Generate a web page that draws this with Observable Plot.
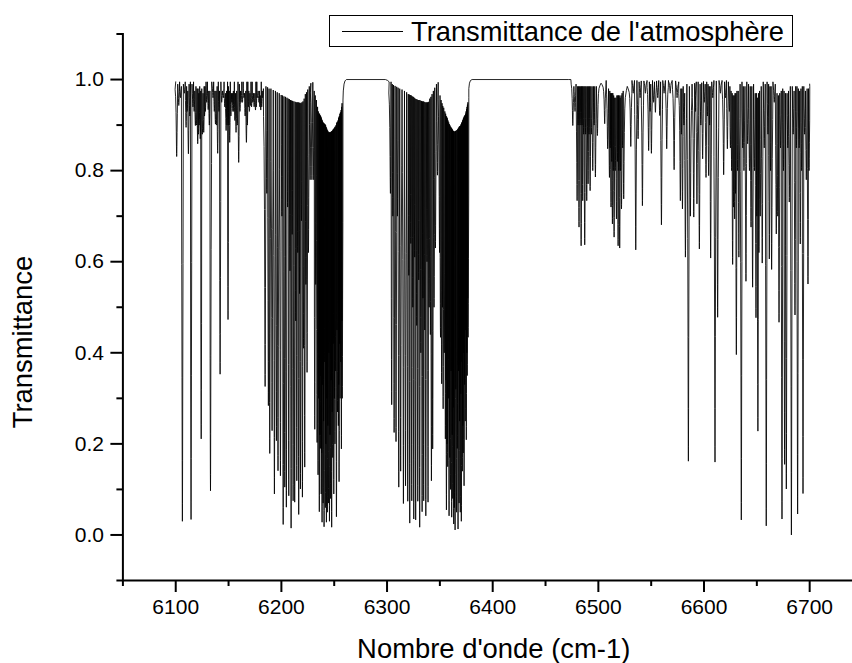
<!DOCTYPE html>
<html><head><meta charset="utf-8">
<script src="https://cdn.jsdelivr.net/npm/d3@7"></script>
<script src="https://cdn.jsdelivr.net/npm/@observablehq/plot@0.6"></script>
<style>
html,body{margin:0;padding:0;background:#fff;font-family:"Liberation Sans",Arial,sans-serif;}
#wrap{position:relative;width:852px;height:663px;overflow:hidden;}
#legend{position:absolute;left:329px;top:15px;width:462px;height:30px;border:1.3px solid #000;background:#fff;box-sizing:content-box;}
#legend i{position:absolute;left:12px;top:15px;width:61px;height:1px;background:#000;}
#legend span{position:absolute;left:81px;top:0;font-size:27.3px;line-height:31px;white-space:nowrap;color:#000;}
</style></head><body>
<div id="wrap"><div id="chart"></div>
<div id="legend"><i></i><span>Transmittance de l'atmosphère</span></div></div>
<script>
const xLabel = "Nombre d'onde (cm-1)";
const yLabel = "Transmittance";
const xMajor = [6100,6200,6300,6400,6500,6600,6700];
const xMinor = [6050,6150,6250,6350,6450,6550,6650];
const yMajor = [0,0.2,0.4,0.6,0.8,1.0];
const yMinor = [-0.1,0.1,0.3,0.5,0.7,0.9,1.1];

// each row: wavenumber of the absorption line, transmittance at its minimum, level of the crest after it
const linesLow = [
[6100.9,.831,.99],[6102.9,.943,.995],[6104.4,.96,.985],[6106.3,.030,.99],[6108.2,.97,.995],[6109.8,.895,.985],
[6112.0,.837,.99],[6114.5,.034,.99],[6116.3,.94,.995],[6118.6,.899,.985],[6120.8,.859,.98],[6122.2,.90,.985],
[6124.1,.211,.98],[6126.5,.884,.985],[6128.1,.93,.995],[6130.7,.934,.975],[6132.9,.097,.995],[6135.3,.96,.995],
[6137.6,.902,.975],[6139.7,.838,.995],[6140.9,.93,.975],[6142.0,.353,.995],[6145.1,.96,.995],[6147.7,.888,.975],
[6149.5,.473,.985],[6151.1,.862,.995],[6153.2,.95,.97],[6155,.93,.995],[6157.1,.884,.975],[6159.6,.818,.99],
[6161.9,.95,.995],[6164.5,.96,.97],[6166.9,.862,.995],[6168.7,.94,.975],[6170.7,.943,.995],[6172.9,.95,.97],
[6175.5,.933,.995],[6177.2,.96,.975],[6180.5,.933,.995],[6182.3,.96,.98]
];
const linesLowWeak = [
[6110.8,.93,.975],[6113.3,.92,.995],[6117.4,.93,.975],[6119.7,.9,.98],[6121.5,.88,.97],[6123.2,.87,.975],
[6125.2,.88,.97],[6127.3,.92,.985],[6129.3,.95,.995],[6131.8,.9,.975],[6136.5,.93,.975],[6138.7,.9,.985],
[6143.5,.95,.975],[6146.4,.94,.97],[6148.6,.9,.995],[6150.3,.9,.975],[6152.2,.92,.97],[6154.1,.93,.975],
[6156,.91,.97],[6158.3,.9,.995],[6160.8,.93,.975],[6163.2,.95,.995],[6165.7,.92,.975],[6167.8,.9,.995],
[6169.7,.93,.97],[6171.8,.94,.995],[6174.2,.94,.97],[6176.3,.94,.995],[6178.8,.95,.975],[6179.6,.94,.965],
[6181.4,.94,.975]
];
const bandOneP = [
[6184.6,.326,.985],[6186.2,.75,.983],[6187.7,.284,.98],[6189,.179,.98],[6191.2,.229,.977],[6193.4,.09,.975],
[6195.3,.207,.972],[6196.8,.141,.97],[6199.1,.13,.966],[6200.5,.7,.965],[6201.7,.023,.963],[6203.2,.105,.962],
[6204.7,.061,.96],[6205.9,.72,.958],[6207,.086,.957],[6208.1,.58,.955],[6209.2,.015,.954],[6210.2,.66,.953],
[6211.1,.075,.952],[6212.6,.072,.951],[6213.6,.47,.95],[6214.6,.119,.95],[6215.5,.62,.95],[6216.4,.045,.949],
[6217.2,.53,.949],[6218,.101,.948],[6219,.69,.95],[6219.9,.083,.952],[6221,.41,.958],[6222.1,.149,.968],
[6223.2,.55,.972],[6224.3,.357,.978],[6225.6,.62,.985],[6227.2,.78,.992]
];
const bandOneR = [
[6228.9,.78,.994],[6230.6,.78,.975],[6231.6,.232,.965],[6232.5,.55,.955],[6233.8,.203,.94],[6234.7,.132,.93],
[6235.9,.051,.925],[6236.9,.19,.92],[6237.7,.09,.915],[6238.5,.028,.91],[6239.5,.07,.905],[6240.4,.018,.903],
[6241.6,.06,.9],[6242.6,.028,.893],[6243.5,.05,.888],[6244.5,.07,.884],[6245.5,.030,.884],[6246.6,.08,.885],
[6247.6,.017,.887],[6248.6,.17,.89],[6249.6,.09,.893],[6250.7,.2,.897],[6252.1,.04,.905],[6253.1,.27,.91],
[6253.9,.24,.915],[6254.6,.117,.92],[6255.6,.3,.928],[6256.8,.189,.94],[6257.6,.30,.955]
];
const bandOneWeak = [
[6235.3,.3,.925],[6236.4,.22,.922],[6237.3,.35,.918],[6238.1,.18,.912],[6239,.33,.907],[6239.95,.25,.904],
[6241,.38,.902],[6242.1,.2,.896],[6243.05,.3,.89],[6244,.24,.886],[6245,.4,.884],[6246,.22,.884],
[6247.1,.34,.886],[6248.1,.27,.888],[6249.1,.42,.891],[6250.15,.3,.895],[6251.4,.36,.9],[6252.6,.45,.907],
[6254.25,.33,.917],[6255.1,.42,.925],[6256.2,.38,.933],[6257.2,.47,.948]
];
const plateauOne = [[6258.6,.975],[6259.3,.99],[6260.2,.997],[6261.5,1],[6298.5,1],[6300.5,.998],[6302,.995]];
const bandTwoP = [
[6303.2,.75,.995],[6304.4,.286,.99],[6305.5,.7,.988],[6306.7,.225,.986],[6308.5,.205,.984],[6309.8,.7,.982],
[6311.1,.105,.98],[6312.9,.14,.978],[6315.5,.069,.975],[6317.5,.108,.972],[6319.6,.074,.968],[6320.6,.57,.967],
[6321.5,.026,.966],[6322.5,.64,.965],[6323.4,.075,.963],[6324.4,.5,.962],[6325.3,.035,.96],[6326.2,.61,.958],
[6327.1,.033,.957],[6328.1,.46,.956],[6329.1,.074,.955],[6330,.56,.955],[6330.9,.017,.954],[6332,.4,.953],
[6333.2,.051,.952],[6334,.52,.952],[6334.7,.075,.951],[6335.7,.45,.95],[6336.7,.042,.95],[6337.8,.6,.95],
[6338.8,.072,.951],[6339.9,.5,.958],[6341,.44,.962],[6342,.119,.968],[6343.2,.189,.975],[6344.5,.5,.982],
[6345.8,.63,.99],[6347.7,.79,.994]
];
const bandTwoR = [
[6349.7,.62,.965],[6350.6,.434,.955],[6351.7,.332,.948],[6352.4,.5,.942],[6353.1,.277,.938],[6354.2,.4,.93],
[6355.2,.211,.925],[6356.2,.055,.918],[6357.4,.15,.91],[6358.7,.042,.902],[6360,.1,.896],[6361.2,.039,.892],
[6362.2,.08,.888],[6363.1,.024,.886],[6363.8,.06,.886],[6364.4,.011,.887],[6365.8,.05,.889],[6367.2,.013,.893],
[6368.2,.07,.897],[6369.3,.05,.899],[6370.3,.03,.905],[6371.3,.14,.91],[6372.1,.18,.915],[6372.9,.108,.92],
[6374,.25,.925],[6375,.209,.935],[6375.9,.35,.945],[6376.7,.434,.96]
];
const bandTwoWeak = [
[6355.7,.34,.92],[6356.8,.2,.915],[6358,.3,.906],[6359.35,.17,.899],[6360.6,.36,.894],[6361.7,.22,.89],
[6362.65,.28,.887],[6365.1,.32,.888],[6366.5,.19,.891],[6367.7,.36,.895],[6368.75,.25,.898],[6369.8,.31,.902],
[6370.8,.38,.907],[6371.7,.24,.912],[6372.5,.4,.917],[6373.45,.33,.922],[6374.5,.45,.93],[6375.45,.4,.94],
[6376.3,.52,.95]
];
const plateauTwo = [[6377.4,.98],[6378,.992],[6379,.998],[6380.5,1],[6472,1],[6474,1]];
const linesMid = [
[6475.8,.899,.985],[6477.9,.93,.99],[6479.9,.734,.985],[6480.8,.9,.985],[6481.7,.676,.985],[6482.7,.9,.985],
[6483.7,.635,.985],[6484.5,.9,.985],[6485.2,.734,.985],[6486.1,.88,.985],[6487.1,.637,.985],[6488,.88,.985],
[6489,.734,.985],[6490.3,.771,.985],[6491.2,.88,.985],[6492.2,.756,.985],[6493.4,.88,.985],[6494.7,.80,.985],
[6496,.9,.985],[6497.2,.786,.985],[6499.1,.877,.992],[6506,.903,.998],[6508.8,.848,.98],[6510.5,.785,.975],
[6511.2,.85,.97],[6512,.72,.97],[6512.7,.82,.97],[6513.3,.683,.97],[6514.1,.8,.965],[6514.9,.654,.96],
[6516,.8,.96],[6517.1,.694,.965],[6518,.82,.965],[6518.7,.635,.965],[6519.4,.8,.965],[6520.2,.63,.96],
[6521,.8,.965],[6521.9,.716,.97],[6523,.85,.975],[6524,.738,.985],[6530.7,.853,.998],[6533,.97,.998],
[6535.4,.626,.998],[6537.6,.87,.995],[6539.5,.96,.997],[6541.7,.723,.997],[6544.5,.97,.998],[6547.6,.844,.995],
[6549,.93,.99],[6550.2,.838,.998],[6552.3,.95,.995],[6554,.928,.997],[6556.2,.96,.998],[6558.1,.921,.995],
[6559.7,.681,.998],[6562.2,.97,.998],[6564.7,.848,.998],[6568,.97,.998],[6571.7,.802,.997],[6574.5,.96,.995],
[6577.6,.734,.98],[6578.6,.88,.98],[6579.6,.716,.985],[6581,.9,.97],[6582.4,.61,.99],[6585.2,.162,.985],
[6587.1,.70,.99],[6590.3,.698,.992],[6592,.93,.995]
];
const linesHigh = [
[6593.3,.727,.995],[6595.6,.628,.99],[6597,.9,.993],[6598.7,.826,.996],[6600.3,.95,.99],[6601.9,.785,.995],
[6603.2,.92,.99],[6604.4,.789,.985],[6605.3,.9,.985],[6606.3,.608,.995],[6608.3,.96,.998],[6610.4,.16,.997],
[6612.9,.478,.998],[6615.5,.97,.998],[6618.6,.791,.995],[6620.3,.96,.998],[6622.1,.848,.995],[6624,.93,.985],
[6625,.85,.975],[6626.2,.8,.97],[6627.1,.594,.965],[6628,.72,.965],[6629,.694,.97],[6629.8,.75,.97],
[6630.6,.396,.975],[6631.8,.8,.975],[6633,.61,.99],[6635.3,.033,.995],[6636.6,.85,.985],[6637.8,.8,.985],
[6639.7,.557,.995],[6641.3,.859,.99],[6643,.8,.985],[6644.5,.676,.985],[6646,.544,.99],[6647.8,.8,.97],
[6649.2,.477,.97],[6650,.7,.96],[6651,.228,.97],[6652,.62,.975],[6653.2,.7,.985],[6655.1,.597,.995],
[6657,.85,.99],[6658.9,.02,.995],[6660.5,.88,.99],[6661.8,.606,.985],[6663,.8,.985],[6664,.583,.995],
[6666.5,.95,.99],[6668.4,.661,.97],[6669.8,.7,.965],[6671,.467,.97],[6672.4,.85,.975],[6673.8,.035,.98],
[6675.2,.8,.975],[6676.3,.155,.97],[6677.9,.101,.97],[6679.3,.85,.975],[6680.7,.731,.985],[6682.7,.0,.985],
[6684.4,.88,.975],[6686.1,.483,.985],[6687.4,.85,.985],[6688.6,.046,.98],[6690,.85,.975],[6691.1,.639,.98],
[6692.4,.8,.985],[6693.7,.091,.985],[6695.2,.88,.975],[6696.8,.78,.98],[6698.4,.551,.98],[6699.4,.8,.985]
];
const endPoint = [[6700,.99]];

// outline of one narrow line: distance from the centre, share of the line's depth at that distance
const shapeOffset = [3.5,2.5,1.5,1,.6,.35,.2,.1];
const shapeShare = [.02,.038,.1,.2,.41,.67,.86,.96];

function profile(rows, startTop){
  const out = [];
  rows.forEach((r,i)=>{
    const [x,low,top] = r;
    const topL = i ? rows[i-1][2] : startTop;
    const gapL = i ? x-rows[i-1][0] : 5;
    const gapR = i<rows.length-1 ? rows[i+1][0]-x : 1.4;
    shapeOffset.forEach((d,k)=>{ if(d<gapL/2) out.push({x:x-d,t:topL-(topL-low)*shapeShare[k]}); });
    out.push({x,t:low});
    for(let k=shapeOffset.length-1;k>=0;k--){ const d=shapeOffset[k]; if(d<gapR/2) out.push({x:x+d,t:top-(top-low)*shapeShare[k]}); }
    out.push({x:x+gapR/2,t:top});
  });
  return out;
}
const merged = (...lists) => d3.sort(lists.flat(), r => r[0]);
const pts = a => a.map(([x,t])=>({x,t}));
const spectrum = [
  {x:6100,t:.995},
  ...profile(merged(linesLow,linesLowWeak),.995),
  ...profile(bandOneP,.985),
  ...profile(merged(bandOneR,bandOneWeak),.992),
  ...pts(plateauOne),
  ...profile(bandTwoP,.995),
  ...profile(merged(bandTwoR,bandTwoWeak),.994),
  ...pts(plateauTwo),
  ...profile(linesMid,1),
  ...profile(linesHigh,.992),
  ...pts(endPoint)
];

const chart = Plot.plot({
  width:852, height:663,
  marginLeft:122.4, marginRight:0, marginTop:33, marginBottom:83,
  style:{fontFamily:"'Liberation Sans',Arial,sans-serif", color:"#000", background:"#fff", overflow:"hidden"},
  x:{type:"linear",domain:[6050,6750], range:[122.4,862]},
  y:{type:"linear",domain:[-0.1,1.1], range:[580,33.5]},
  marks:[
    Plot.line(spectrum,{x:"x",y:"t",stroke:"#000",strokeWidth:0.85,curve:"linear"}),
    Plot.ruleX([6050],{stroke:"#000",strokeWidth:2}),
    Plot.ruleY([-0.1],{stroke:"#000",strokeWidth:2}),
    Plot.axisX({ticks:xMajor,tickSize:12,tickPadding:7,tickFormat:d=>String(d),label:null,fontSize:21,strokeWidth:2}),
    Plot.axisX({ticks:xMinor,tickSize:6,tickFormat:()=>"",label:null,strokeWidth:2}),
    Plot.axisY({ticks:yMajor,tickSize:12,tickPadding:7,tickFormat:".1f",label:null,fontSize:21,strokeWidth:2}),
    Plot.axisY({ticks:yMinor,tickSize:6,tickFormat:()=>"",label:null,strokeWidth:2}),
    Plot.text([xLabel],{frameAnchor:"bottom",fontSize:27.4,fill:"#000",dy:69,textAnchor:"middle",lineAnchor:"middle",dx:6}),
    Plot.text([yLabel],{frameAnchor:"left",fontSize:27.4,fill:"#000",rotate:-90,dx:-100,dy:35,textAnchor:"middle",lineAnchor:"middle"})
  ]
});
document.getElementById("chart").appendChild(chart);
</script></body></html>
